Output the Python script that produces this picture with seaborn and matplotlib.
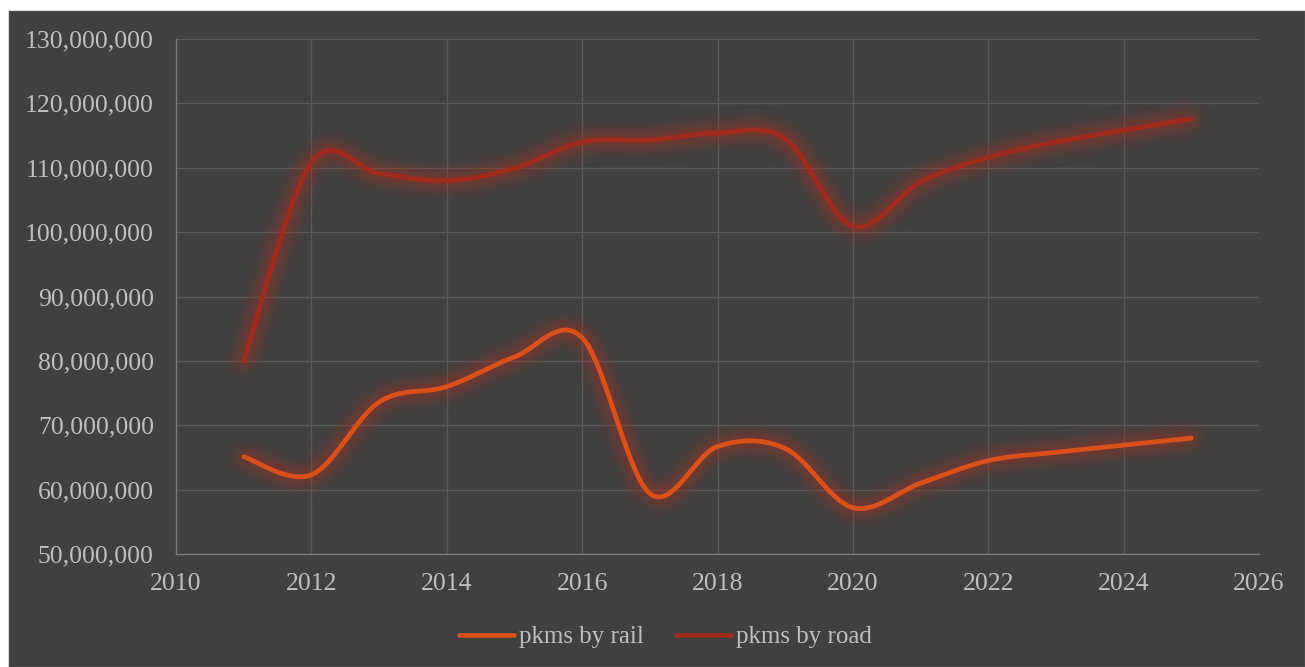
import numpy as np
import pandas as pd
import matplotlib
matplotlib.use("Agg")
import matplotlib.pyplot as plt
import seaborn as sns
from matplotlib.patches import Rectangle
from matplotlib.lines import Line2D
from matplotlib.ticker import FuncFormatter, MultipleLocator

# Passenger-kilometres by mode, 2011-2025
years = [2011, 2012, 2013, 2014, 2015, 2016, 2017, 2018,
         2019, 2020, 2021, 2022, 2023, 2024, 2025]
pkms_rail = [65_100_000, 62_300_000, 73_600_000, 76_000_000, 80_600_000,
             83_600_000, 59_400_000, 66_700_000, 66_400_000, 57_200_000,
             61_000_000, 64_500_000, 65_800_000, 66_900_000, 68_000_000]
pkms_road = [79_900_000, 110_800_000, 109_100_000, 108_000_000, 109_900_000,
             114_000_000, 114_300_000, 115_400_000, 114_500_000, 100_900_000,
             107_800_000, 111_600_000, 114_000_000, 115_800_000, 117_600_000]
series_names = ["pkms by rail", "pkms by road"]

RAIL = "#D9501B"
ROAD = "#9E2B1E"
BG = "#404040"
TEXT = "#BFBFBF"
FONT = "Liberation Serif"


def smooth(xs, ys, n=40):
    """Bezier smoothing through every point (spreadsheet-style smoothed line)."""
    xs = np.asarray(xs, float)
    ys = np.asarray(ys, float)
    px = np.concatenate([[xs[0]], xs, [xs[-1]]])
    py = np.concatenate([[ys[0]], ys, [ys[-1]]])
    out_x, out_y = [], []
    t = np.linspace(0, 1, n)
    for i in range(1, len(px) - 2):
        p0x, p0y = px[i], py[i]
        p3x, p3y = px[i + 1], py[i + 1]
        c1x = p0x + (px[i + 1] - px[i - 1]) / 6
        c1y = p0y + (py[i + 1] - py[i - 1]) / 6
        c2x = p3x - (px[i + 2] - px[i]) / 6
        c2y = p3y - (py[i + 2] - py[i]) / 6
        b0, b1, b2, b3 = (1 - t) ** 3, 3 * t * (1 - t) ** 2, 3 * t ** 2 * (1 - t), t ** 3
        out_x.extend(b0 * p0x + b1 * c1x + b2 * c2x + b3 * p3x)
        out_y.extend(b0 * p0y + b1 * c1y + b2 * c2y + b3 * p3y)
    return np.array(out_x), np.array(out_y)


class Glow:
    """agg filter: soft blurred halo in a fixed colour."""

    def __init__(self, color, sigma=6.0, strength=0.55):
        self.rgb = matplotlib.colors.to_rgb(color)
        self.sigma = sigma
        self.strength = strength

    def __call__(self, im, dpi):
        pad = int(self.sigma * 3) + 2
        a = np.pad(im[..., 3], pad)
        r = int(self.sigma * 3)
        k = np.exp(-0.5 * (np.arange(-r, r + 1) / self.sigma) ** 2)
        k /= k.sum()
        b = np.zeros_like(a)
        for i, w in enumerate(k):
            b += w * np.roll(a, i - r, axis=0)
        c = np.zeros_like(b)
        for i, w in enumerate(k):
            c += w * np.roll(b, i - r, axis=1)
        out = np.zeros(c.shape + (4,), dtype=im.dtype)
        out[..., 0], out[..., 1], out[..., 2] = self.rgb
        out[..., 3] = np.clip(c * self.strength, 0, 1)
        return out, -pad, -pad


sns.set_theme(style="dark")
plt.rcParams["font.family"] = [FONT, "DejaVu Serif"]

fig = plt.figure(figsize=(13.05, 6.67), dpi=100, facecolor="white")
panel = Rectangle((8 / 1305, 0), 1 - 8 / 1305, 1 - 10 / 667,
                  transform=fig.transFigure, facecolor=BG,
                  edgecolor="#D9D9D9", linewidth=0.8, zorder=-10)
fig.patches.append(panel)

ax = fig.add_axes([176 / 1305, 1 - 554 / 667, (1259 - 176) / 1305, (554 - 39) / 667])
ax.set_zorder(1)
ax.set_facecolor(BG)

frames = []
for name, vals in zip(series_names, [pkms_rail, pkms_road]):
    sx, sy = smooth(years, vals)
    frames.append(pd.DataFrame({"year": sx, "pkms": sy, "series": name}))
df = pd.concat(frames, ignore_index=True)
palette = {series_names[0]: RAIL, series_names[1]: ROAD}

# halo underneath each line
for name in series_names:
    sub = df[df.series == name]
    glow_line, = ax.plot(sub.year, sub.pkms, color=palette[name], lw=11,
                         solid_capstyle="round", zorder=2)
    glow_line.set_agg_filter(Glow("#A82E1E", sigma=7, strength=0.62))
    glow_line.set_rasterized(True)

sns.lineplot(data=df, x="year", y="pkms", hue="series", palette=palette,
             sort=False, estimator=None, lw=3.4, ax=ax, legend=False, zorder=3)
for ln in ax.lines[-2:]:
    ln.set_solid_capstyle("round")

ax.set_xlim(2010, 2026)
ax.set_ylim(50_000_000, 130_000_000)
ax.xaxis.set_major_locator(MultipleLocator(2))
ax.yaxis.set_major_locator(MultipleLocator(10_000_000))
ax.yaxis.set_major_formatter(FuncFormatter(lambda v, p: f"{v:,.0f}"))
ax.set_xlabel("")
ax.set_ylabel("")
ax.grid(True, color="#595959", linewidth=1.0)
ax.set_axisbelow(True)
for side in ["top", "right"]:
    ax.spines[side].set_visible(False)
for side in ["left", "bottom"]:
    ax.spines[side].set_color("#7A7A7A")
    ax.spines[side].set_linewidth(1.0)
ax.tick_params(axis="both", length=0, colors=TEXT, labelsize=18.5)
ax.tick_params(axis="y", pad=16)
ax.tick_params(axis="x", pad=14)
for lbl in ax.get_xticklabels() + ax.get_yticklabels():
    lbl.set_color(TEXT)

handles = [Line2D([0], [0], color=palette[n], lw=3.4, solid_capstyle="round")
           for n in series_names]
leg = fig.legend(handles, series_names, loc="center", bbox_to_anchor=(0.51, 1 - 637 / 667),
                 ncol=2, frameon=False, fontsize=18, handlelength=2.2,
                 handletextpad=0.2, columnspacing=1.3)
for t in leg.get_texts():
    t.set_color(TEXT)

fig.savefig("out.png", dpi=100, facecolor="white")
